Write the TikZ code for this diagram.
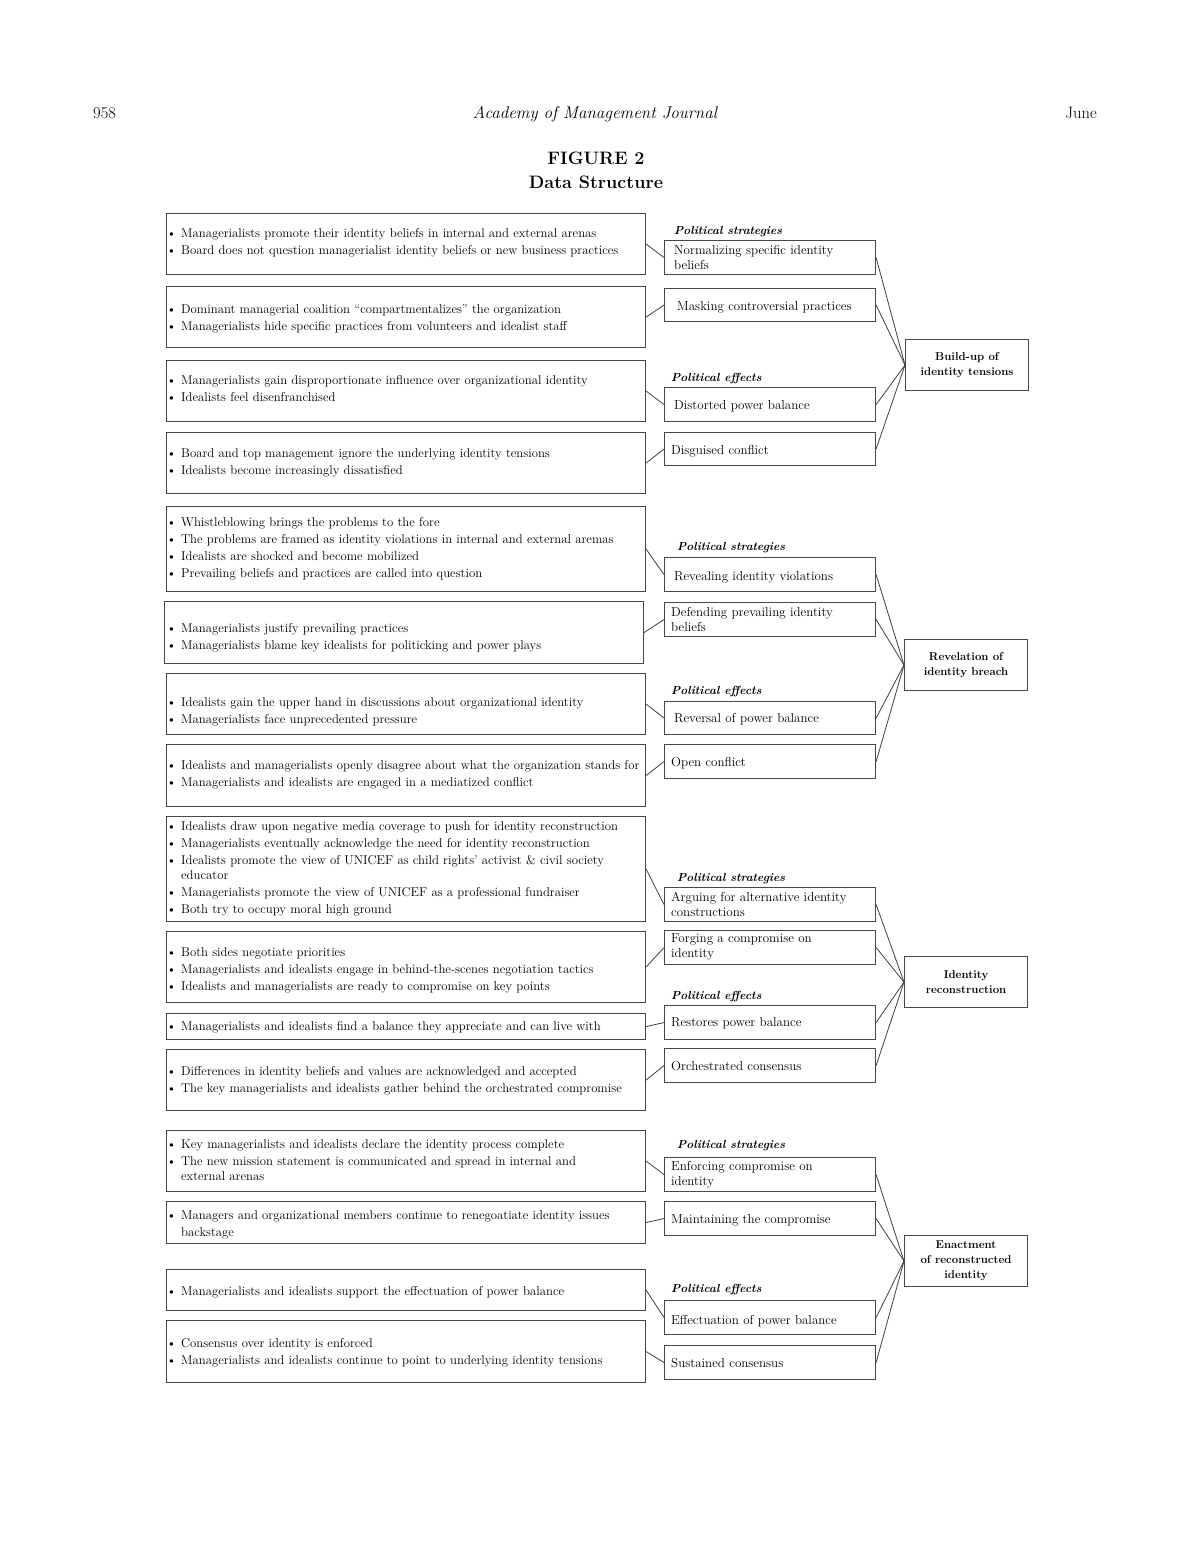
\documentclass[tikz,border=0pt]{standalone}
\usepackage{graphicx}
\newcommand{\itm}[1]{\parskip=2pt\relax\hangindent=14.5pt\hangafter=1\noindent\makebox[14.5pt][l]{\textbullet}#1\par}
\tikzset{
  bx/.style={draw=black!72, line width=1.1pt, anchor=north west, inner sep=0pt},
  lbox/.style={bx, minimum width=479pt},
  mbox/.style={bx, minimum width=211pt, minimum height=34pt},
  ltxt/.style={anchor=base west, inner sep=0pt, text width=480pt, align=left, font=\fontsize{12.75}{15}\selectfont},
  mtxt/.style={anchor=base west, inner sep=0pt, text width=200pt, align=left, font=\fontsize{13}{15}\selectfont},
  rbox/.style={draw=black!72, line width=1.1pt, anchor=north west, align=center, minimum width=123pt, minimum height=51pt, inner sep=2pt, font=\fontsize{11.4}{15}\selectfont\bfseries},
  lab/.style={anchor=base west, inner sep=0pt, font=\fontsize{11.7}{14}\selectfont\bfseries\itshape},
  conn/.style={draw=black!75, line width=0.8pt},
  hdr/.style={inner sep=0pt, anchor=base, font=\fontsize{16.5}{18}\selectfont}
}
\begin{document}
\begin{tikzpicture}[x=1pt,y=-1pt]
\useasboundingbox[fill=white] (0,0) rectangle (1188,1548);
% header
\node[hdr, anchor=base west] (pg) at (93,118) {958};
\node[hdr, font=\fontsize{17}{18}\selectfont\itshape] (jr) at (595,118) {Academy of Management Journal};
\node[hdr, anchor=base east] (mo) at (1097,118) {June};
\node[hdr, font=\fontsize{18}{20}\selectfont\bfseries] (fig) at (596,164) {FIGURE 2};
\node[hdr, font=\fontsize{18}{20}\selectfont\bfseries] (ttl) at (596,188) {Data Structure};

% ===== Section 1 =====
\node[lbox, minimum height=61pt] (L1) at (166,213) {};
\node[ltxt] (L1t) at (166.5,237) {\itm{Managerialists promote their identity beliefs in internal and external arenas}\itm{Board does not question managerialist identity beliefs or new business practices}};
\node[lbox, minimum height=61pt] (L2) at (166,286) {};
\node[ltxt] (L2t) at (166.5,313) {\itm{Dominant managerial coalition “compartmentalizes” the organization}\itm{Managerialists hide specific practices from volunteers and idealist staff}};
\node[lbox, minimum height=61pt] (L3) at (166,360) {};
\node[ltxt] (L3t) at (166.5,384) {\itm{Managerialists gain disproportionate influence over organizational identity}\itm{Idealists feel disenfranchised}};
\node[lbox, minimum height=61pt] (L4) at (166,432) {};
\node[ltxt] (L4t) at (166.5,457) {\itm{Board and top management ignore the underlying identity tensions}\itm{Idealists become increasingly dissatisfied}};

\node[lab] (ps1) at (674,234) {Political strategies};
\node[mbox] (M1) at (664,240) {};
\node[mtxt] (M1t) at (674,254) {Normalizing specific identity\\beliefs};
\node[mbox, minimum height=33pt] (M2) at (664,288) {};
\node[mtxt] (M2t) at (677,310) {Masking controversial practices};
\node[lab] (pe1) at (671,381) {Political effects};
\node[mbox] (M3) at (664,387) {};
\node[mtxt] (M3t) at (674,409) {Distorted power balance};
\node[mbox, minimum height=33pt] (M4) at (664,432) {};
\node[mtxt] (M4t) at (671,454) {Disguised conflict};
\node[rbox] (R1) at (905,339) {Build-up of\\identity tensions};

% ===== Section 2 =====
\node[lbox, minimum height=85pt] (L5) at (166,506) {};
\node[ltxt] (L5t) at (166.5,526) {\itm{Whistleblowing brings the problems to the fore}\itm{The problems are framed as identity violations in internal and external aremas}\itm{Idealists are shocked and become mobilized}\itm{Prevailing beliefs and practices are called into question}};
\node[lbox, minimum height=62pt] (L6) at (164,601) {};
\node[ltxt] (L6t) at (166.5,632) {\itm{Managerialists justify prevailing practices}\itm{Managerialists blame key idealists for politicking and power plays}};
\node[lbox, minimum height=61pt] (L7) at (166,673) {};
\node[ltxt] (L7t) at (166.5,706) {\itm{Idealists gain the upper hand in discussions about organizational identity}\itm{Managerialists face unprecedented pressure}};
\node[lbox, minimum height=62pt] (L8) at (166,744) {};
\node[ltxt] (L8t) at (166.5,769) {\itm{Idealists and managerialists openly disagree about what the organization stands for}\itm{Managerialists and idealists are engaged in a mediatized conflict}};

\node[lab] (ps2) at (677,550) {Political strategies};
\node[mbox] (M5) at (664,557) {};
\node[mtxt] (M5t) at (674,580) {Revealing identity violations};
\node[mbox] (M6) at (664,602) {};
\node[mtxt] (M6t) at (671,616) {Defending prevailing identity\\beliefs};
\node[lab] (pe2) at (671,694) {Political effects};
\node[mbox, minimum height=33pt] (M7) at (664,701) {};
\node[mtxt] (M7t) at (674,722) {Reversal of power balance};
\node[mbox] (M8) at (664,744) {};
\node[mtxt] (M8t) at (671,766) {Open conflict};
\node[rbox] (R2) at (904,639) {Revelation of\\identity breach};

% ===== Section 3 =====
\node[lbox, minimum height=105pt] (L9) at (166,816) {};
\node[ltxt] (L9t) at (166.5,830) {\itm{Idealists draw upon negative media coverage to push for identity reconstruction}\itm{Managerialists eventually acknowledge the need for identity reconstruction}\itm{Idealists promote the view of UNICEF as child rights’ activist \& civil society\newline educator}\itm{Managerialists promote the view of UNICEF as a professional fundraiser}\itm{Both try to occupy moral high ground}};
\node[lbox, minimum height=71pt] (L10) at (166,931) {};
\node[ltxt] (L10t) at (166.5,956) {\itm{Both sides negotiate priorities}\itm{Managerialists and idealists engage in behind-the-scenes negotiation tactics}\itm{Idealists and managerialists are ready to compromise on key points}};
\node[lbox, minimum height=26pt] (L11) at (166,1013) {};
\node[ltxt] (L11t) at (166.5,1030) {\itm{Managerialists and idealists find a balance they appreciate and can live with}};
\node[lbox, minimum height=61pt] (L12) at (166,1049) {};
\node[ltxt] (L12t) at (166.5,1075) {\itm{Differences in identity beliefs and values are acknowledged and accepted}\itm{The key managerialists and idealists gather behind the orchestrated compromise}};

\node[lab] (ps3) at (677,881) {Political strategies};
\node[mbox] (M9) at (664,887) {};
\node[mtxt] (M9t) at (671,901) {Arguing for alternative identity\\constructions};
\node[mbox] (M10) at (664,930) {};
\node[mtxt] (M10t) at (671,942) {Forging a compromise on\\identity};
\node[lab] (pe3) at (671,999) {Political effects};
\node[mbox] (M11) at (664,1005) {};
\node[mtxt] (M11t) at (671,1026) {Restores power balance};
\node[mbox] (M12) at (664,1048) {};
\node[mtxt] (M12t) at (671,1070) {Orchestrated consensus};
\node[rbox] (R3) at (904,956) {Identity\\reconstruction};

% ===== Section 4 =====
\node[lbox, minimum height=61pt] (L13) at (166,1130) {};
\node[ltxt] (L13t) at (166.5,1148) {\itm{Key managerialists and idealists declare the identity process complete}\itm{The new mission statement is communicated and spread in internal and\newline external arenas}};
\node[lbox, minimum height=42pt] (L14) at (166,1201) {};
\node[ltxt, font=\fontsize{12.75}{17}\selectfont] (L14t) at (166.5,1219) {\itm{Managers and organizational members continue to renegoatiate identity issues\newline backstage}};
\node[lbox, minimum height=41pt] (L15) at (166,1269) {};
\node[ltxt] (L15t) at (166.5,1295) {\itm{Managerialists and idealists support the effectuation of power balance}};
\node[lbox, minimum height=62pt] (L16) at (166,1320) {};
\node[ltxt] (L16t) at (166.5,1347) {\itm{Consensus over identity is enforced}\itm{Managerialists and idealists continue to point to underlying identity tensions}};

\node[lab] (ps4) at (677,1148) {Political strategies};
\node[mbox] (M13) at (664,1157) {};
\node[mtxt] (M13t) at (671,1170) {Enforcing compromise on\\identity};
\node[mbox] (M14) at (664,1201) {};
\node[mtxt] (M14t) at (671,1223) {Maintaining the compromise};
\node[lab] (pe4) at (671,1292) {Political effects};
\node[mbox] (M15) at (664,1300) {};
\node[mtxt] (M15t) at (671,1324) {Effectuation of power balance};
\node[mbox] (M16) at (664,1345) {};
\node[mtxt] (M16t) at (671,1367) {Sustained consensus};
\node[rbox] (R4) at (904,1235) {Enactment\\of reconstructed\\identity};

% ===== connectors =====
\foreach \l/\m in {L1/M1,L2/M2,L3/M3,L4/M4,L5/M5,L6/M6,L7/M7,L8/M8,L9/M9,L10/M10,L11/M11,L12/M12,L13/M13,L14/M14,L15/M15,L16/M16}
  \draw[conn] (\l.east) -- (\m.west);
\foreach \m in {M1,M2,M3,M4} \draw[conn] (\m.east) -- (R1.west);
\foreach \m in {M5,M6,M7,M8} \draw[conn] (\m.east) -- (R2.west);
\foreach \m in {M9,M10,M11,M12} \draw[conn] (\m.east) -- (R3.west);
\foreach \m in {M13,M14,M15,M16} \draw[conn] (\m.east) -- (R4.west);
\end{tikzpicture}
\end{document}
